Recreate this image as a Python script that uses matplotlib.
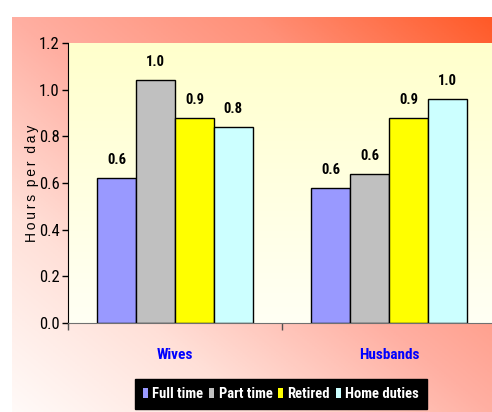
import numpy as np
import matplotlib
matplotlib.use("Agg")
import matplotlib.pyplot as plt
from matplotlib.colors import LinearSegmentedColormap
from matplotlib.patches import Rectangle

categories = ["Wives", "Husbands"]
series = ["Full time", "Part time", "Retired", "Home duties"]
wives = [0.62, 1.04, 0.88, 0.84]
husbands = [0.58, 0.64, 0.88, 0.96]
labels_w = ["0.6", "1.0", "0.9", "0.8"]
labels_h = ["0.6", "0.6", "0.9", "1.0"]
colors = ["#9999FF", "#C0C0C0", "#FFFF00", "#CCFFFF"]
yticks = [0.0, 0.2, 0.4, 0.6, 0.8, 1.0, 1.2]

plt.rcParams["font.family"] = ["Roboto Condensed", "DejaVu Sans"]

W, H = 492, 412
fig = plt.figure(figsize=(W / 100, H / 100), dpi=100)
fig.patch.set_facecolor("white")

# background gradient
bg = fig.add_axes([12 / W, 0, (W - 12) / W, (H - 17) / H], zorder=-10)
nx, ny = 200, 200
xx, yy = np.meshgrid(np.linspace(0, 1, nx), np.linspace(0, 1, ny))
t = (xx + yy) / 2.0
cmap_bg = LinearSegmentedColormap.from_list(
    "bg", [(0, "#FFFAF8"), (0.25, "#FFE0D8"), (0.5, "#FFAFA2"), (0.75, "#FF9078"), (1.0, "#FF5A28")])
bg.imshow(t, cmap=cmap_bg, origin="lower", aspect="auto", extent=[0, 1, 0, 1], vmin=0, vmax=1)
bg.set_axis_off()

left = 68 / W
width = 428 / W
bottom = (H - 323) / H
height = 280 / H
ax = fig.add_axes([left, bottom, width, height])
ax.set_xlim(-0.5, 1.5)
ax.set_ylim(0, 1.2)

cmap_pa = LinearSegmentedColormap.from_list("pa", ["#FFFFF4", "#FFFFCC"])
ax.imshow(np.linspace(0, 1, 100).reshape(-1, 1), cmap=cmap_pa, origin="lower", aspect="auto",
          extent=[-0.5, 1.5, 0, 1.2], zorder=0)

bw = 0.182
offsets = (np.arange(4) - 1.5) * bw
x = np.arange(len(categories))
for i, s in enumerate(series):
    vals = [wives[i], husbands[i]]
    labs = [labels_w[i], labels_h[i]]
    bars = ax.bar(x + offsets[i], vals, bw, color=colors[i], edgecolor="black", linewidth=1,
                  label=s, zorder=2)
    for b, lab in zip(bars, labs):
        ax.annotate(lab, (b.get_x() + b.get_width() / 2, b.get_height()), xytext=(0, 8),
                    textcoords="offset points", ha="center", va="bottom",
                    fontsize=10.5, fontweight="bold", color="black")

for sp in ["top", "right"]:
    ax.spines[sp].set_visible(False)
ax.spines["left"].set_color("black")
ax.spines["bottom"].set_color("#707070")

ax.set_yticks(yticks)
ax.set_yticklabels([f"{v:.1f}" for v in yticks], fontsize=12)
ax.tick_params(axis="y", direction="out", length=4, width=1, pad=2, colors="black")

ax.set_xticks([-0.5, 0.5, 1.5])
ax.set_xticklabels(["", "", ""])
ax.tick_params(axis="x", which="major", direction="out", length=5, width=1, color="#505050")
ax.set_xticks(x, minor=True)
ax.set_xticklabels(categories, minor=True, fontsize=11, fontweight="bold", color="#0000FF")
ax.tick_params(axis="x", which="minor", length=0, pad=18)

ax.set_ylabel("H\u2009o\u2009u\u2009r\u2009s  p\u2009e\u2009r  d\u2009a\u2009y", fontsize=10,
              family=["Liberation Sans", "DejaVu Sans"])
ax.yaxis.set_label_coords(-0.068, 0.5)

handles = [Rectangle((0, 0), 1, 1, facecolor=c, edgecolor="none") for c in colors]
leg = fig.legend(handles, series, loc="center", bbox_to_anchor=(281 / W, 1 - 394 / H),
                 ncol=4, frameon=True, fancybox=False, facecolor="black", edgecolor="black",
                 framealpha=1, handlelength=0.33, handleheight=0.75, handletextpad=0.3,
                 columnspacing=0.4, borderpad=0.55,
                 prop={"size": 10.5, "weight": "bold", "family": "Roboto Condensed"})
for txt in leg.get_texts():
    txt.set_color("white")

fig.savefig("out.png", dpi=100)
